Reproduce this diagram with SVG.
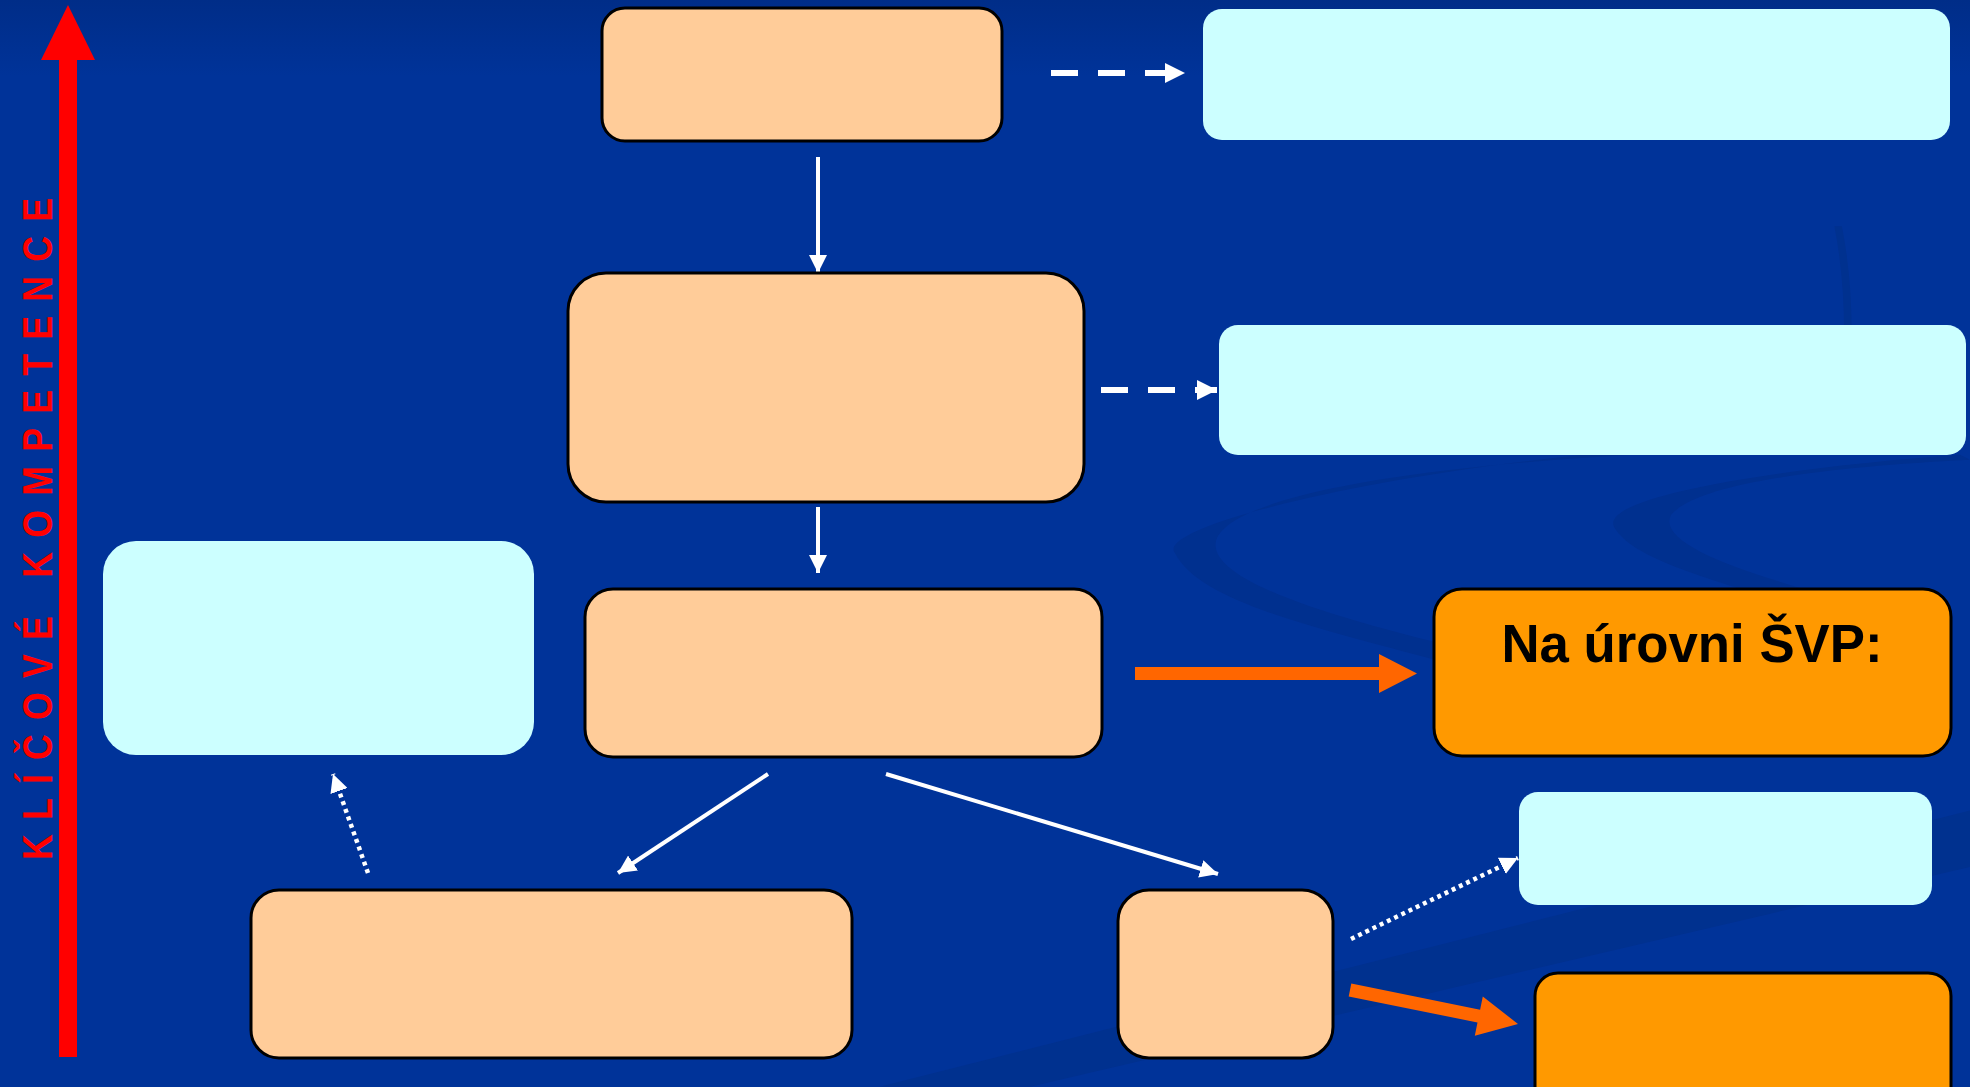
<svg xmlns="http://www.w3.org/2000/svg" width="1970" height="1087" viewBox="0 0 1970 1087">
<defs>
<linearGradient id="bg" x1="0" y1="0" x2="0" y2="1">
<stop offset="0" stop-color="#002d88"/>
<stop offset="0.07" stop-color="#003399"/>
<stop offset="1" stop-color="#003399"/>
</linearGradient>
<marker id="wh" viewBox="0 0 10 10" refX="10" refY="5" markerWidth="20" markerHeight="20" markerUnits="userSpaceOnUse" orient="auto">
<path d="M0,0 L10,5 L0,10 z" fill="#ffffff"/>
</marker>
<marker id="whs" viewBox="0 0 10 10" refX="10" refY="5" markerWidth="18" markerHeight="18" markerUnits="userSpaceOnUse" orient="auto">
<path d="M0,0 L10,5 L0,10 z" fill="#ffffff"/>
</marker>
<style>
.peach{fill:#FFCC99;stroke:#000;stroke-width:3}
.cyan{fill:#CCFFFF;stroke:none}
.orange{fill:#FF9900;stroke:#000;stroke-width:3}
.wl{stroke:#fff;stroke-width:4;fill:none}
.wd{stroke:#fff;stroke-width:6;fill:none;stroke-dasharray:27 20}
.wdot{stroke:#fff;stroke-width:4.5;fill:none;stroke-dasharray:4 4}
.oa{fill:#FF6600}
.label{font-family:"Liberation Sans",Arial,sans-serif;font-weight:bold}
</style>
</defs>
<rect x="0" y="0" width="1970" height="1087" fill="url(#bg)"/>
<g id="decor" transform="scale(1.2564)">
<path d="M1260,362 C1080,380 920,420 935,440 C955,480 1050,500 1160,530 L1180,520 C1050,490 960,460 968,430 C980,395 1120,372 1300,362 z" fill="#00308f"/>
<path d="M1560,362 C1420,372 1270,395 1285,420 C1300,445 1360,460 1420,480 L1440,470 C1370,450 1320,430 1330,410 C1350,385 1450,372 1568,366 z" fill="#00308f"/>
<path d="M700,865 L1568,645 L1568,690 L820,865 z" fill="#00318f"/>
<path d="M1460,180 C1470,230 1470,290 1462,340 L1468,340 C1476,290 1476,230 1466,180 z" fill="#00318f"/>
</g>
<g id="axis">
<rect x="59" y="55" width="18" height="1002" fill="#FF0000"/>
<path d="M68,5 L95,60 L41,60 z" fill="#FF0000"/>
<text class="label" transform="translate(52,529) rotate(-90) scale(0.85,1)" text-anchor="middle" font-size="42" fill="#FF0000" textLength="779" lengthAdjust="spacing">KLÍČOVÉ KOMPETENCE</text>
</g>
<g id="connectors">
<line class="wd" x1="1051" y1="73" x2="1185" y2="73" marker-end="url(#wh)"/>
<line class="wl" x1="818" y1="157" x2="818" y2="273" marker-end="url(#whs)"/>
<line class="wd" x1="1101" y1="390" x2="1217" y2="390" marker-end="url(#wh)"/>
<line class="wl" x1="818" y1="507" x2="818" y2="573" marker-end="url(#whs)"/>
<path class="oa" d="M1135,667 L1379,667 L1379,654 L1417,673.5 L1379,693 L1379,680 L1135,680 z"/>
<line class="wl" x1="768" y1="774" x2="618" y2="873" marker-end="url(#whs)"/>
<line class="wl" x1="886" y1="774" x2="1218" y2="874" marker-end="url(#whs)"/>
<line class="wdot" x1="368" y1="873" x2="333" y2="774" marker-end="url(#whs)"/>
<line class="wdot" x1="1351" y1="939" x2="1518" y2="858" marker-end="url(#whs)"/>
<path class="oa" d="M1351.3,983.6 L1480.1,1009.7 L1482.8,996.5 L1518,1024 L1474.8,1035.7 L1477.5,1022.5 L1348.7,996.4 z"/>
</g>
<g id="n1"><rect class="peach" x="602" y="8" width="400" height="133" rx="23"/></g>
<g id="n2"><rect class="cyan" x="1203" y="9" width="747" height="131" rx="19"/></g>
<g id="n3"><rect class="peach" x="568" y="273" width="516" height="229" rx="38"/></g>
<g id="n4"><rect class="cyan" x="1219" y="325" width="747" height="130" rx="19"/></g>
<g id="n5"><rect class="cyan" x="103" y="541" width="431" height="214" rx="33"/></g>
<g id="n6"><rect class="peach" x="585" y="589" width="517" height="168" rx="28"/></g>
<g id="n7"><rect class="orange" x="1434" y="589" width="517" height="167" rx="28"/>
<text class="label" x="1692" y="662" text-anchor="middle" font-size="53" fill="#000" textLength="381" lengthAdjust="spacingAndGlyphs">Na úrovni ŠVP:</text></g>
<g id="n8"><rect class="cyan" x="1519" y="792" width="413" height="113" rx="19"/></g>
<g id="n9"><rect class="peach" x="251" y="890" width="601" height="168" rx="28"/></g>
<g id="n10"><rect class="peach" x="1118" y="890" width="215" height="168" rx="31"/></g>
<g id="n11"><rect class="orange" x="1535" y="973" width="416" height="150" rx="23"/></g>
</svg>
